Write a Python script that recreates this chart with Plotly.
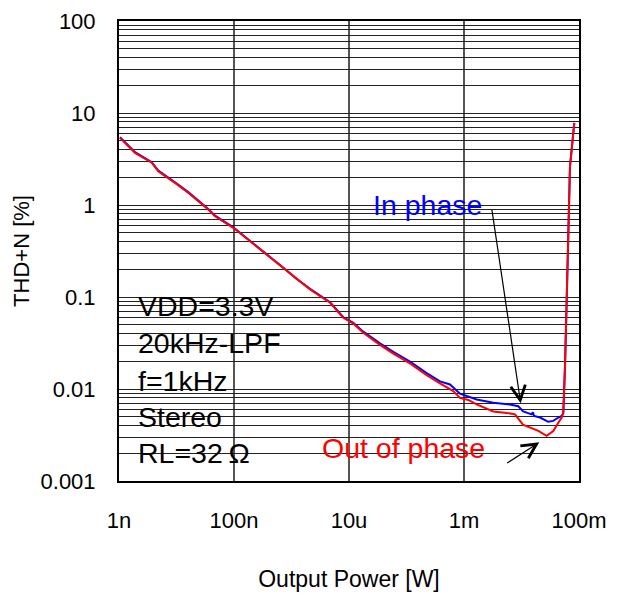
import plotly.graph_objects as go

# ---------------- data ----------------
power_in_phase = [1.04e-9, 1.9e-9, 3.71e-9, 4.82e-9, 9.42e-9, 1.6e-8, 3.57e-8, 4.68e-8, 9.73e-8,
                  1.9e-7, 4.23e-7, 8.26e-7, 1.23e-6, 2.1e-6, 4.68e-6, 7.96e-6, 1.19e-5, 1.77e-5,
                  3.46e-5, 5.89e-5, 1.15e-4, 2.24e-4, 3.83e-4, 5.71e-4, 8.51e-4, 1.66e-3, 3.24e-3,
                  6.31e-3, 8.79e-3, 1.07e-2, 1.5e-2, 1.58e-2, 1.65e-2, 2.1e-2, 2.92e-2, 3.57e-2,
                  4.37e-2, 5.0e-2, 5.33e-2, 5.71e-2, 6.11e-2, 6.52e-2, 6.97e-2, 7.46e-2, 7.96e-2, 8.28e-2]
thd_in_phase = [5.45, 3.75, 2.92, 2.36, 1.76, 1.38, 0.905, 0.765, 0.572,
                0.41, 0.27, 0.194, 0.157, 0.123, 0.0878, 0.0602, 0.0525, 0.0420,
                0.0314, 0.0254, 0.0199, 0.0149, 0.0121, 0.0112, 0.0089, 0.0077, 0.0071,
                0.0068, 0.0065, 0.0057, 0.0053, 0.0056, 0.0051, 0.0049, 0.0044, 0.0045,
                0.0049, 0.0051, 0.0055, 0.0177, 0.094, 0.50, 2.64, 4.01, 6.09, 7.82]

power_out_phase = [1.04e-9, 1.9e-9, 3.71e-9, 4.82e-9, 9.42e-9, 1.6e-8, 3.57e-8, 4.68e-8, 9.73e-8,
                   1.9e-7, 4.23e-7, 8.26e-7, 1.23e-6, 2.1e-6, 4.68e-6, 7.96e-6, 1.19e-5, 1.77e-5,
                   3.46e-5, 5.89e-5, 1.15e-4, 2.24e-4, 3.83e-4, 6.52e-4, 8.51e-4, 1.19e-3, 1.66e-3,
                   3.24e-3, 5.53e-3, 7.71e-3, 1.06e-2, 1.41e-2, 1.96e-2, 2.74e-2, 3.57e-2, 4.37e-2,
                   5.0e-2, 5.33e-2, 5.71e-2, 6.11e-2, 6.52e-2, 6.97e-2, 7.46e-2, 7.96e-2, 8.28e-2]
thd_out_phase = [5.37, 3.69, 2.88, 2.33, 1.74, 1.36, 0.894, 0.755, 0.565,
                 0.404, 0.267, 0.191, 0.155, 0.121, 0.0865, 0.0594, 0.0515, 0.0408,
                 0.0302, 0.0242, 0.0190, 0.0141, 0.0115, 0.0095, 0.0080, 0.0076, 0.0068,
                 0.0057, 0.0055, 0.0053, 0.0041, 0.0038, 0.0035, 0.0031, 0.0035, 0.0043,
                 0.0049, 0.0055, 0.0177, 0.094, 0.50, 2.64, 4.01, 6.09, 7.82]

x_tick_vals = [1e-9, 1e-7, 1e-5, 1e-3, 1e-1]
x_tick_text = ["1n", "100n", "10u", "1m", "100m"]
y_decades = [0.001, 0.01, 0.1, 1, 10, 100]
y_decade_text = ["0.001", "0.01", "0.1", "1", "10", "100"]
condition_lines = ["VDD=3.3V", "20kHz-LPF", "f=1kHz", "Stereo", "RL=32\u2009Ω"]

# ---------------- figure ----------------
FONT = "Liberation Sans, Arial, sans-serif"
W, H = 627, 595
L, R, T, B = 119, 579, 21, 481


def px(x):
    return (x - L) / (R - L)


def py(y):
    return (B - y) / (B - T)


# y grid: every 1..9 in each decade, labels only on decades
y_grid_vals, y_grid_text = [], []
for d, lab in zip(y_decades, y_decade_text):
    for m in range(1, 10):
        v = d * m
        if v > 100 + 1e-9:
            break
        y_grid_vals.append(v)
        y_grid_text.append(lab if m == 1 else "")

fig = go.Figure()
fig.add_trace(go.Scatter(x=power_in_phase, y=thd_in_phase, mode="lines", name="In phase",
                         line=dict(color="#0000ff", width=2)))
fig.add_trace(go.Scatter(x=power_out_phase, y=thd_out_phase, mode="lines", name="Out of phase",
                         line=dict(color="#ff0000", width=2)))

shapes = [
    dict(type="rect", xref="paper", yref="paper", x0=px(133), x1=px(302), y0=py(470), y1=py(285),
         fillcolor="white", line=dict(width=0), layer="between"),
    dict(type="rect", xref="paper", yref="paper", x0=px(367), x1=px(497), y0=py(230), y1=py(188),
         fillcolor="white", line=dict(width=0), layer="between"),
    dict(type="rect", xref="paper", yref="paper", x0=px(317), x1=px(500), y0=py(480), y1=py(421),
         fillcolor="white", line=dict(width=0), layer="between"),
]

annotations = []
cond_y = [306, 343, 380.5, 417, 452.5]
for txt, yy in zip(condition_lines, cond_y):
    annotations.append(dict(text=txt, xref="paper", yref="paper", x=px(136), y=py(yy),
                            xanchor="left", yanchor="middle", showarrow=False,
                            font=dict(family=FONT, size=28.5, color="black")))
annotations.append(dict(text="In phase", xref="paper", yref="paper", x=px(371), y=py(205.5),
                        xanchor="left", yanchor="middle", showarrow=False,
                        font=dict(family=FONT, size=28.5, color="#0000ff")))
annotations.append(dict(text="Out of phase", xref="paper", yref="paper", x=px(320), y=py(447.5),
                        xanchor="left", yanchor="middle", showarrow=False,
                        font=dict(family=FONT, size=28.5, color="#ff0000")))
# arrows
annotations.append(dict(text="", xref="paper", yref="paper", x=px(520.7), y=py(403.3),
                        ax=491.7 - 520.7, ay=208.3 - 403.3, showarrow=True,
                        arrowhead=5, arrowsize=2.4, arrowwidth=1.2, arrowcolor="black"))
annotations.append(dict(text="", xref="paper", yref="paper", x=px(539.3), y=py(442.3),
                        ax=505.7 - 539.3, ay=464 - 442.3, showarrow=True,
                        arrowhead=5, arrowsize=2.4, arrowwidth=1.2, arrowcolor="black"))

fig.update_layout(
    width=W, height=H,
    margin=dict(l=L, r=W - R, t=T, b=H - B, pad=0),
    paper_bgcolor="white", plot_bgcolor="white",
    showlegend=False,
    font=dict(family=FONT, size=22, color="black"),
    shapes=shapes, annotations=annotations,
)
fig.update_xaxes(type="log", range=[-9, -1], tickvals=x_tick_vals, ticktext=x_tick_text,
                 showgrid=True, gridcolor="#555555", gridwidth=1.5,
                 showline=True, linecolor="black", linewidth=2, mirror=True,
                 ticks="", ticklabelstandoff=19, zeroline=False, automargin=False,
                 title=dict(text="Output Power [W]", standoff=38,
                            font=dict(family=FONT, size=23)),
                 tickfont=dict(family=FONT, size=22))
fig.update_yaxes(type="log", range=[-3, 2], tickvals=y_grid_vals, ticktext=y_grid_text,
                 showgrid=True, gridcolor="#222222", gridwidth=1,
                 showline=True, linecolor="black", linewidth=2, mirror=True,
                 ticks="", ticklabelstandoff=17, zeroline=False, automargin=False,
                 title=dict(text="THD+N [%]", standoff=5,
                            font=dict(family=FONT, size=22)),
                 tickfont=dict(family=FONT, size=22))

fig.write_html("out.html")
